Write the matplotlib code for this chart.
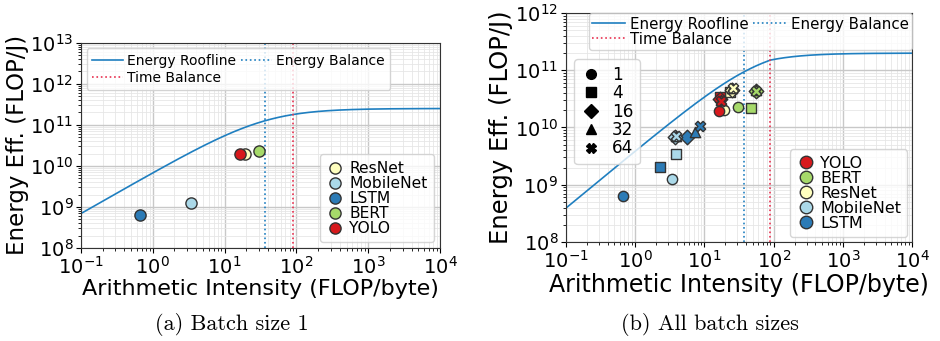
#!/usr/bin/env python3

import numpy as np
import matplotlib.pyplot as plt
from matplotlib.lines import Line2D
from matplotlib.ticker import LogLocator

# roofline parameters (left: batch 1 device model, right: all batches)
peak_eff_a = 2.5e11
energy_balance_a = 36.0
time_balance = 90.0
energy_balance_line = 37.0

eps_flop_b = 3.8e-12
eps_mem_b = 1.46e-10
const_mem_b = 1.1e-10

batch_sizes = [1, 4, 16, 32, 64]
batch_markers = ['o', 's', 'D', '^', 'X']

models = ['YOLO', 'BERT', 'ResNet', 'MobileNet', 'LSTM']
colors = {'YOLO': '#d7191c', 'BERT': '#a6d96a', 'ResNet': '#ffffbf',
          'MobileNet': '#abd9e9', 'LSTM': '#2c7bb6'}

# arithmetic intensity (FLOP/byte) per batch size 1,4,16,32,64
ai_yolo = [16.4, 17.0, 17.0, 17.1, 17.2]
ai_bert = [30.5, 47.0, 55.0, 55.5, 56.0]
ai_resnet = [19.3, 23.4, 25.0, 25.4, 25.8]
ai_mobilenet = [3.37, 3.83, 3.75, 3.85, 3.95]
ai_lstm = [0.67, 2.27, 5.57, 7.26, 8.67]

# energy efficiency (FLOP/J) per batch size 1,4,16,32,64
ee_yolo = [1.95e10, 3.4e10, 3.1e10, 3.0e10, 2.85e10]
ee_bert = [2.3e10, 2.16e10, 4.4e10, 4.5e10, 4.4e10]
ee_resnet = [2.0e10, 4.1e10, 4.6e10, 4.8e10, 4.8e10]
ee_mobilenet = [1.25e9, 3.5e9, 6.8e9, 7.0e9, 7.2e9]
ee_lstm = [6.4e8, 2.05e9, 6.7e9, 8.5e9, 1.07e10]

ai = {'YOLO': ai_yolo, 'BERT': ai_bert, 'ResNet': ai_resnet,
      'MobileNet': ai_mobilenet, 'LSTM': ai_lstm}
ee = {'YOLO': ee_yolo, 'BERT': ee_bert, 'ResNet': ee_resnet,
      'MobileNet': ee_mobilenet, 'LSTM': ee_lstm}

line_color = '#1f7fc0'
tb_color = '#e8304f'


def roof_a(x):
    eps_f = 1.0 / peak_eff_a
    return 1.0 / (eps_f + energy_balance_a * eps_f / x)


def roof_b(x):
    low = 1.0 / (eps_flop_b + (eps_mem_b + const_mem_b) / x)
    high = 1.0 / (eps_flop_b + const_mem_b / time_balance + eps_mem_b / x)
    return np.where(x < time_balance, low, high)


def style_axes(ax, ymax):
    ax.set_xscale('log')
    ax.set_yscale('log')
    ax.set_xlim(1e-1, 1e4)
    ax.set_ylim(1e8, ymax)
    ax.xaxis.set_major_locator(LogLocator(base=10, numticks=20))
    ax.yaxis.set_major_locator(LogLocator(base=10, numticks=20))
    ax.grid(True, which='major', color='#c8c8c8', lw=1.0)
    ax.grid(True, which='minor', color='#e6e6e6', lw=0.6)
    ax.set_axisbelow(True)
    ax.tick_params(labelsize=14, pad=2)
    for s in ax.spines.values():
        s.set_color('#333333')


fig = plt.figure(figsize=(9.4, 3.41), dpi=100)
ax1 = fig.add_axes([0.0862, 0.2727, 0.382, 0.602])
ax2 = fig.add_axes([0.602, 0.2903, 0.3684, 0.6716])

xs = np.logspace(-1, 4, 400)

# (a) batch size 1
style_axes(ax1, 1e13)
l1, = ax1.plot(xs, roof_a(xs), color=line_color, lw=1.2, label='Energy Roofline')
l2 = ax1.axvline(energy_balance_line, color=line_color, ls=':', lw=1.2, label='Energy Balance')
l3 = ax1.axvline(time_balance, color=tb_color, ls=':', lw=1.2, label='Time Balance')
for m in ['ResNet', 'MobileNet', 'LSTM', 'BERT', 'YOLO']:
    ax1.scatter(ai[m][0], ee[m][0], s=65, color=colors[m], edgecolor='#333333',
                lw=1.0, zorder=3, label=m)
leg = ax1.legend(handles=[l1, l3, l2], loc='upper left', ncol=2, fontsize=10,
                 columnspacing=0.4, handletextpad=0.3, handlelength=2.2,
                 borderaxespad=0.4, labelspacing=0.2)
ax1.add_artist(leg)
h, lab = ax1.get_legend_handles_labels()
pts = [hh for hh, ll in zip(h, lab) if ll in models]
ax1.legend(handles=pts, loc='lower right', fontsize=11.2, handletextpad=0.3,
           handlelength=1.2, labelspacing=0.0, borderaxespad=0.4)
ax1.set_xlabel('Arithmetic Intensity (FLOP/byte)', fontsize=16, labelpad=1)
ax1.set_ylabel('Energy Eff. (FLOP/J)', fontsize=16.5, labelpad=1)

# (b) all batch sizes
style_axes(ax2, 1e12)
r1, = ax2.plot(xs, roof_b(xs), color=line_color, lw=1.2, label='Energy Roofline')
r2 = ax2.axvline(energy_balance_line, color=line_color, ls=':', lw=1.2, label='Energy Balance')
r3 = ax2.axvline(time_balance, color=tb_color, ls=':', lw=1.2, label='Time Balance')
for m in ['LSTM', 'MobileNet', 'ResNet', 'BERT', 'YOLO']:
    for i, b in enumerate(batch_sizes):
        ax2.scatter(ai[m][i], ee[m][i], s=55, marker=batch_markers[i],
                    color=colors[m], edgecolor='#333333', lw=1.0, zorder=3)
leg1 = ax2.legend(handles=[r1, r3, r2], loc='upper right', ncol=2, fontsize=10.8,
                  columnspacing=0.3, handletextpad=0.3, handlelength=2.2,
                  borderaxespad=0.0, borderpad=0.25, labelspacing=0.0)
ax2.add_artist(leg1)
bh = [Line2D([], [], ls='', marker=mk, color='black', markersize=7)
      for mk in batch_markers]
leg2 = ax2.legend(bh, [str(b) for b in batch_sizes], loc='upper left',
                  bbox_to_anchor=(0.01, 0.82), fontsize=12.2, handletextpad=0.6,
                  handlelength=1.2, labelspacing=0.02, borderaxespad=0.3)
ax2.add_artist(leg2)
mh = [Line2D([], [], ls='', marker='o', markerfacecolor=colors[m],
             markeredgecolor='#333333', markersize=9) for m in models]
ax2.legend(mh, models, loc='lower right', fontsize=11.5, handletextpad=0.3,
           handlelength=1.2, labelspacing=0.0, borderaxespad=0.3)
ax2.set_xlabel('Arithmetic Intensity (FLOP/byte)', fontsize=17, labelpad=1)
ax2.set_ylabel('Energy Eff. (FLOP/J)', fontsize=17.5, labelpad=1)

fig.text(0.247, 0.047, '(a) Batch size 1', ha='center', va='center',
         fontsize=16, family='cmr10')
fig.text(0.755, 0.047, '(b) All batch sizes', ha='center', va='center',
         fontsize=16, family='cmr10')

fig.savefig('out.png', dpi=100)
